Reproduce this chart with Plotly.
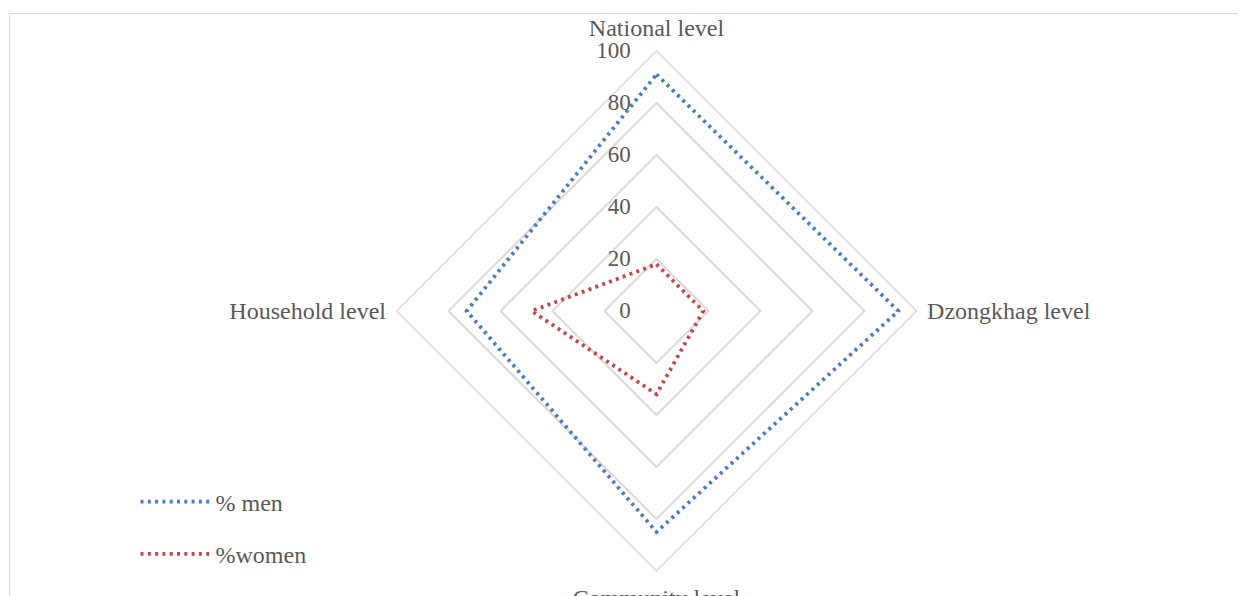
import plotly.graph_objects as go

categories = ["National level", "Dzongkhag level", "Community level", "Household level"]
men = [91, 93, 85, 73]
women = [18, 18, 32, 48]
radial_ticks = [0, 20, 40, 60, 80, 100]

FONT = "Liberation Serif, Times New Roman, serif"
GREY_TEXT = "#595959"
GRID = "#d9d9d9"

W, H = 1246, 596
# the page puts an 8px body margin around the figure, so aim positions 8px up/left
OFF = 7.5
CX, CY, R = 656 - OFF, 310.5 - OFF, 260


def closed(values):
    return values + values[:1]


def tick_label(v):
    # labels are end-anchored on the axis; pad to sit a little left of it
    return str(v) + "\u00a0\u00a0\u00a0\u2009"


fig = go.Figure()
fig.add_trace(go.Scatterpolar(
    r=closed(men), theta=closed(categories), mode="lines", name="% men",
    legendgroup="men",
    line=dict(color="#4a7ebb", width=3.8, dash="3px,4.3px"),
))
fig.add_trace(go.Scatterpolar(
    r=closed(women), theta=closed(categories), mode="lines", name="%women",
    legendgroup="women",
    line=dict(color="#be4b48", width=3.8, dash="3px,4.3px"),
))

fig.update_layout(
    width=W,
    height=H,
    margin=dict(l=0, r=0, t=0, b=0),
    paper_bgcolor="white",
    font=dict(family=FONT, size=24, color=GREY_TEXT),
    polar=dict(
        domain=dict(x=[(CX - R) / W, (CX + R) / W],
                    y=[1 - (CY + R) / H, 1 - (CY - R) / H]),
        gridshape="linear",
        bgcolor="white",
        radialaxis=dict(
            range=[0, 100], tickmode="array", tickvals=radial_ticks,
            ticktext=[tick_label(v) for v in radial_ticks],
            angle=90, tickangle=90, side="counterclockwise",
            showline=False, ticks="", gridcolor=GRID, gridwidth=1.5,
            tickfont=dict(family=FONT, size=23, color=GREY_TEXT),
        ),
        angularaxis=dict(
            rotation=90, direction="clockwise", showgrid=False,
            linecolor=GRID, linewidth=1.5,
            ticks="outside", ticklen=5, tickcolor="rgba(0,0,0,0)",
            tickfont=dict(family=FONT, size=24, color=GREY_TEXT),
        ),
    ),
    legend=dict(
        x=(135 - OFF) / W, y=1 - (479 - OFF) / H, xanchor="left", yanchor="top",
        tracegroupgap=18, itemwidth=70,
        font=dict(family=FONT, size=24, color=GREY_TEXT),
        bgcolor="rgba(0,0,0,0)",
    ),
    shapes=[dict(
        type="rect", xref="paper", yref="paper",
        x0=(9 - OFF) / W, x1=(1240 - OFF) / W, y0=-0.05, y1=1 - (13 - OFF) / H,
        line=dict(color="#d9d9d9", width=1),
    )],
)

fig.write_html("out.html")
